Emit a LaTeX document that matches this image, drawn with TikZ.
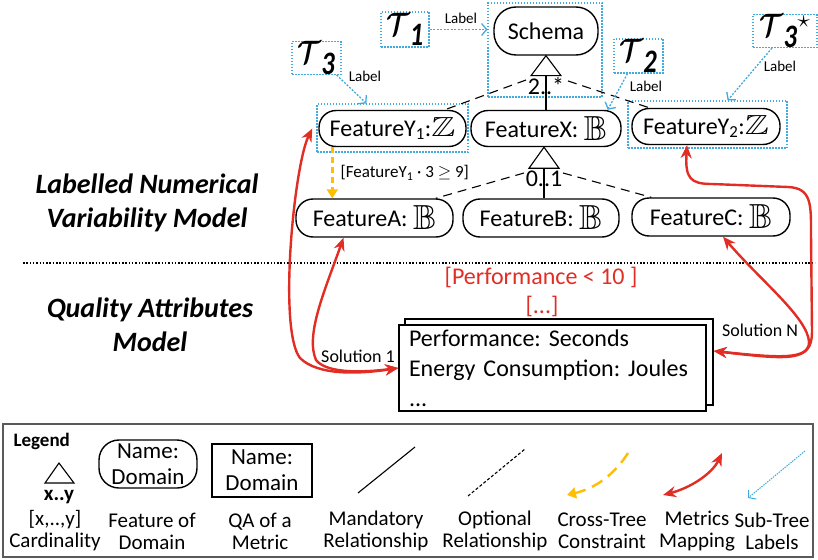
\documentclass[tikz,border=0pt]{standalone}
\usepackage{amsmath, amssymb}
\usepackage{graphicx}
\usepackage{fontspec}
\setmainfont{Carlito}
\usetikzlibrary{arrows.meta}
\definecolor{LabelBlue}{RGB}{65,170,222}
\definecolor{MapRed}{RGB}{226,45,36}
\definecolor{ConstrGold}{RGB}{255,190,0}
\definecolor{FrameGrey}{RGB}{90,90,90}
\newcommand{\domZ}{\scalebox{1.5}[1.15]{$\mathbb{Z}$}}
\newcommand{\domB}{\raisebox{-3pt}{\scalebox{1.45}{$\mathbb{B}$}}}
\newcommand{\tagT}[1]{\scalebox{1.05}[1.3]{$\boldsymbol{\mathcal{T}}_{\textbf{\textit{#1}}}$}}

\begin{document}
\frenchspacing
\begin{tikzpicture}[
            x=1pt, y=-1pt,
            feature/.style={
                draw,
                line width=1.4pt,
                rounded corners=17pt,
                inner sep=0pt,
                minimum height=36pt,
                font=\fontsize{24}{29}\selectfont
            },
            qabox/.style={draw, fill=white, line width=1.4pt, inner sep=0pt},
            subframe/.style={draw=LabelBlue, line width=1.2pt, dash pattern=on 1.5pt off 1.5pt, inner sep=0pt},
            tagbox/.style={subframe, font=\fontsize{36}{38}\selectfont},
            tagarrow/.style={-{Straight Barb[length=5pt, width=12pt]}, draw=LabelBlue, line width=1.3pt, dash pattern=on 2pt off 1.5pt},
            tagtext/.style={font=\fontsize{15}{18}\selectfont},
            maparrow/.style={{Stealth[length=13pt, width=11pt]}-{Stealth[length=13pt, width=11pt]}, draw=MapRed, line width=2.4pt},
            ctcarrow/.style={-{Triangle[length=9pt, width=11pt]}, draw=ConstrGold, line width=2.4pt, dash pattern=on 6pt off 4pt},
            mand/.style={draw, line width=1.1pt},
            opt/.style={draw, line width=1.1pt, dash pattern=on 9pt off 6pt},
            card/.style={font=\fontsize{24}{29}\selectfont},
            sidetext/.style={align=center, font=\fontsize{28}{34}\selectfont\bfseries\itshape},
            soltext/.style={font=\fontsize{18}{21}\selectfont},
            legtext/.style={align=center, font=\fontsize{21}{22}\selectfont}
        ]
            \useasboundingbox (0,0) rectangle (818,559);

            % sub-tree frames
            \node[subframe, minimum width=114pt, minimum height=94pt] (schemaframe) at (545,50) {};
            \node[subframe, minimum width=151pt, minimum height=48pt] (fy1frame) at (392.5,128) {};
            \node[subframe, minimum width=159pt, minimum height=47pt] (fy2frame) at (707.5,124.5) {};

            % features
            \node[feature, minimum width=104pt, minimum height=48pt, rounded corners=22pt] (schema) at (546,31) {Schema};
            \node[feature, minimum width=147pt] (fy1) at (392.5,128.5) {FeatureY\textsubscript{1}:\domZ};
            \node[feature, minimum width=150pt] (fx) at (546,128.5) {FeatureX: \domB};
            \node[feature, minimum width=148pt] (fy2) at (706,126.5) {FeatureY\textsubscript{2}:\domZ};
            \node[feature, minimum width=157pt, minimum height=38pt] (fa) at (374.5,218) {FeatureA: \domB};
            \node[feature, minimum width=156pt, minimum height=38pt] (fb) at (541,218) {FeatureB: \domB};
            \node[feature, minimum width=158pt, minimum height=38pt] (fc) at (711,217) {FeatureC: \domB};

            % cardinalities
            \draw[mand] (schema.south) -- ++(-15,20) -- ++(30,0) -- cycle;
            \draw[mand] (schema.south) ++(0,20) -- (fx.north);
            \node[card] (cardtop) at (546,86) {2..*};
            \draw[mand] (fx.south) ++(-2,0) -- ++(-15,21) -- ++(30,0) -- cycle;
            \draw[mand] (fx.south) ++(-2,21) -- (fb.north -| 544,0);
            \node[card] (cardmid) at (544,179) {0..1};

            \coordinate (ltop) at (526,80);
            \coordinate (rtop) at (568,81);
            \coordinate (lmid) at (524,173);
            \coordinate (rmid) at (563,173);
            \draw[opt] (ltop) -- ([xshift=-22pt]fy1.north east);
            \draw[opt] (rtop) -- ([xshift=18pt]fy2.north west);
            \draw[opt] (lmid) -- ([xshift=-18pt]fa.north east);
            \draw[opt] (rmid) -- ([xshift=20pt]fc.north west);

            % cross-tree constraint
            \draw[ctcarrow] ([xshift=14pt]fy1.south west) -- ([xshift=14pt]fy1.south west |- fa.north);
            \node[anchor=west, font=\fontsize{17}{20}\selectfont] (ctclabel) at (337,173) {[FeatureY\textsubscript{1} · 3 $\geq$ 9]};

            % sub-tree labels
            \node[tagbox, minimum width=48pt, minimum height=35pt] (t1) at (405,29.5) {\tagT{1}};
            \node[tagbox, minimum width=49pt, minimum height=32pt] (t3) at (316.5,58) {\tagT{3}};
            \node[tagbox, minimum width=49pt, minimum height=34pt] (t2) at (638.5,56) {\tagT{2}};
            \node[tagbox, minimum width=64pt, minimum height=32pt] (t3s) at (785,31) {\tagT{3}${}^{\star}$};
            \draw[tagarrow] (t1.east) -- (t1.east -| schemaframe.west);
            \draw[tagarrow] ([xshift=-5pt]t3.south east) -- ([xshift=50pt]fy1frame.north west);
            \draw[tagarrow] ([xshift=-11pt]t2.south) -- ([xshift=-14pt]fx.north east);
            \draw[tagarrow] ([xshift=-13pt]t3s.south) -- ([xshift=-60pt]fy2frame.north east);
            \node[tagtext] (lab1) at (461,18) {Label};
            \node[tagtext] (lab3) at (365,76) {Label};
            \node[tagtext] (lab2) at (646,86) {Label};
            \node[tagtext] (lab3s) at (780,66) {Label};

            % models
            \draw[line width=1.2pt, dash pattern=on 1.5pt off 1.8pt] (23,263) -- (815,263);
            \node[sidetext] (lnvm) at (147,203) {Labelled Numerical\\Variability Model};
            \node[sidetext] (qam) at (150,325) {Quality Attributes\\Model};

            % quality attributes
            \node[text=MapRed, font=\fontsize{24}{29}\selectfont] (perf) at (541,277) {[Performance < 10 ]};
            \node[text=MapRed, font=\fontsize{24}{29}\selectfont] (more) at (542,306) {[...]};
            \node[qabox, minimum width=308pt, minimum height=86pt] (solback) at (559,362) {};
            \node[qabox, minimum width=307pt, minimum height=86pt, text width=287pt, inner xsep=10pt,
                align=left, font=\fontsize{24}{30}\selectfont] (sol) at (552.5,368)
                {Performance: Seconds\\Energy Consumption: Joules\\...};
            \node[soltext] (sol1) at (358,356) {Solution 1};
            \node[soltext] (soln) at (760,330) {Solution N};

            % metrics mapping
            \draw[maparrow] ([xshift=-6pt]fy1.west) .. controls (294,165) and (278,330) .. (300,358)
                .. controls (318,376) and (360,374) .. (sol.west);
            \draw[maparrow] ([xshift=-31pt]fa.south) .. controls (325,290) and (305,335) .. (316,360)
                .. controls (326,373) and (360,373) .. (sol.west);
            \draw[maparrow] ([xshift=-19pt]fy2.south) .. controls (685,178) and (690,184) .. (712,184)
                -- (788,187) .. controls (812,188) and (811,205) .. (811,235)
                -- (812,332) .. controls (812,362) and (790,360) .. ([yshift=11pt]solback.east);
            \draw[maparrow] ([xshift=12pt]fc.south) .. controls (760,280) and (808,318) .. (809,342)
                .. controls (809,360) and (780,358) .. ([yshift=11pt]solback.east);

            % legend
            \node[draw=FrameGrey, line width=1.2pt, minimum width=810pt, minimum height=133pt, inner sep=0pt] (legend) at (408,490.5) {};
            \node[anchor=west, font=\bfseries\fontsize{19}{22}\selectfont] (legtitle) at (10,441) {Legend};
            \draw[mand] (59,463) -- (45,483) -- (74,483) -- cycle;
            \node[font=\bfseries\fontsize{21}{24}\selectfont] (legxy) at (59,497) {x..y};
            \node[feature, minimum width=98pt, minimum height=48pt, rounded corners=20pt, align=center,
                font=\fontsize{23}{26}\selectfont] (legfeat) at (148,464) {Name:\\Domain};
            \node[qabox, minimum width=100pt, minimum height=53pt, align=center,
                font=\fontsize{23}{26}\selectfont] (legqa) at (262,470.5) {Name:\\Domain};
            \coordinate (mandA) at (358,493);
            \coordinate (mandB) at (415,447);
            \coordinate (optA) at (468,496);
            \coordinate (optB) at (525,449);
            \coordinate (ctcA) at (628,453);
            \coordinate (ctcB) at (567,495);
            \coordinate (mapA) at (663,495);
            \coordinate (mapB) at (722,453);
            \coordinate (tagA) at (805,451);
            \coordinate (tagB) at (748,498);
            \draw[mand] (mandA) -- (mandB);
            \draw[opt, dash pattern=on 3pt off 2pt] (optA) -- (optB);
            \draw[ctcarrow, dash pattern=on 12pt off 7pt] (ctcA) .. controls (612,478) and (592,489) .. (ctcB);
            \draw[maparrow] (mapA) .. controls (690,488) and (712,474) .. (mapB);
            \draw[tagarrow, line width=1pt, dash pattern=on 1.5pt off 1pt] (tagA) -- (tagB);
            \node[legtext] (legcard) at (55,531) {[x,..,y]\\Cardinality};
            \node[legtext] (legfeattxt) at (152,531) {Feature of\\Domain};
            \node[legtext] (legqatxt) at (260,531) {QA of a\\Metric};
            \node[legtext] (legmand) at (376,531) {Mandatory\\Relationship};
            \node[legtext] (legopt) at (495,531) {Optional\\Relationship};
            \node[legtext] (legctc) at (602,531) {Cross-Tree\\Constraint};
            \node[legtext] (legmap) at (697,531) {Metrics\\Mapping};
            \node[legtext] (legtag) at (772,531) {Sub-Tree\\Labels};
        \end{tikzpicture}
\end{document}
